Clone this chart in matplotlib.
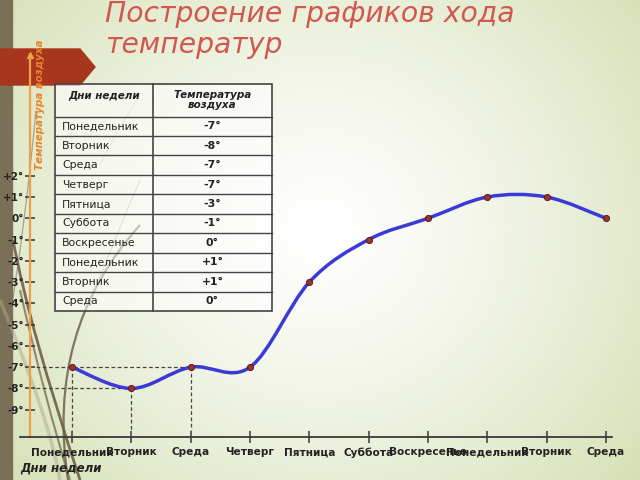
import numpy as np
import matplotlib.pyplot as plt
from matplotlib.path import Path
from matplotlib.patches import PathPatch, Rectangle, Polygon

# data
days = ["Понедельник", "Вторник", "Среда", "Четверг", "Пятница", "Суббота",
        "Воскресенье", "Понедельник", "Вторник", "Среда"]
temps = [-7, -8, -7, -7, -3, -1, 0, 1, 1, 0]
y_ticks = list(range(-9, 3))


def deg(v):
    return ("+%d°" % v) if v > 0 else ("%d°" % v)


fig = plt.figure(figsize=(6.4, 4.8), dpi=100)

# slide background (pixel coordinates)
bg = fig.add_axes([0, 0, 1, 1], zorder=0)
bg.set_xlim(0, 640)
bg.set_ylim(480, 0)
bg.axis("off")
yy, xx = np.mgrid[0:480, 0:640]
r = np.sqrt(((xx - 320) / 430.0) ** 2 + ((yy - 230) / 400.0) ** 2)
r = np.clip(r, 0, 1) ** 1.3
c0 = np.array([1.0, 1.0, 1.0])
c1 = np.array([212, 223, 178]) / 255.0
bg.imshow(c0 + (c1 - c0) * r[..., None], extent=(0, 640, 480, 0), aspect="auto", zorder=0)

bg.add_patch(Rectangle((0, 0), 12, 480, color="#7a7058", zorder=1))

# decorative curves
curves = [
    ((13, 240), (30, 330), (80, 480), 2.0, "#6e6048", 0.9),
    ((20, 290), (45, 400), (70, 480), 1.5, "#6e6048", 0.7),
    ((140, 225), (45, 330), (68, 480), 1.6, "#6e6048", 0.85),
    ((0, 300), (50, 420), (60, 480), 2.5, "#b0a890", 0.5),
    ((36, 110), (26, 220), (8, 330), 0.9, "#777766", 0.6),
    ((140, 180), (118, 230), (95, 290), 0.7, "#888877", 0.6),
    ((140, 95), (120, 125), (100, 165), 0.6, "#999988", 0.5),
]
for p0, p1, p2, lw, col, al in curves:
    bg.add_patch(PathPatch(Path([p0, p1, p2], [Path.MOVETO, Path.CURVE3, Path.CURVE3]),
                           fill=False, lw=lw, color=col, alpha=al, zorder=2))

bg.add_patch(Polygon([(0, 49), (80, 49), (95, 67), (80, 85), (0, 85)],
                     closed=True, color="#a8361c", zorder=3))

# title
bg.text(105, 22, "Построение графиков хода", fontsize=20.3, style="italic",
        color="#d0584e", va="baseline", zorder=4)
bg.text(105, 53, "температур", fontsize=20.3, style="italic",
        color="#d0584e", va="baseline", zorder=4)

bg.text(40, 105, "Температура воздуха", rotation=90, fontsize=7.5, style="italic",
        fontweight="bold", color="#e8842c", ha="center", va="center", zorder=5)
bg.text(20, 468, "Дни недели", fontsize=8.5, style="italic", fontweight="bold",
        color="#222222", ha="left", va="center", zorder=5)

# table
tl, tr, tc = 55, 272, 153
top, head = 84, 116.5
rh = 19.45
bottom = head + rh * len(days)
bg.add_patch(Rectangle((tl, top), tr - tl, bottom - top, facecolor="white",
                       alpha=0.55, edgecolor="none", zorder=4))
bg.add_patch(Rectangle((tl, top), tr - tl, bottom - top, fill=False,
                       edgecolor="#444444", lw=1.2, zorder=5))
bg.plot([tc, tc], [top, bottom], color="#444444", lw=1.2, zorder=5)
for i in range(len(days)):
    yl = head + rh * i
    bg.plot([tl, tr], [yl, yl], color="#444444", lw=1.0, zorder=5)
    yc = yl + rh / 2
    bg.text(62, yc, days[i], fontsize=7.8, color="#222222", va="center", zorder=6)
    bg.text((tc + tr) / 2, yc, deg(temps[i]), fontsize=7.8, fontweight="bold",
            color="#222222", ha="center", va="center", zorder=6)
bg.text((tl + tc) / 2, 95, "Дни недели", fontsize=7.5, style="italic", fontweight="bold",
        color="#222222", ha="center", va="center", zorder=6)
bg.text((tc + tr) / 2, 100, "Температура\nвоздуха", fontsize=7.5, style="italic",
        fontweight="bold", color="#222222", ha="center", va="center",
        linespacing=1.0, zorder=6)

# chart axes
px_x, px_y = 59.33, 21.27
ax = fig.add_axes([20 / 640, 43 / 480, 592 / 640, 382 / 480], zorder=2)
ax.patch.set_alpha(0)
ax.set_xlim((20 - 72) / px_x, (612 - 72) / px_x)
ax.set_ylim((218.3 - 437) / px_y, (218.3 - 55) / px_y)
yaxis_x = (29.5 - 72) / px_x

for s in ["top", "right"]:
    ax.spines[s].set_visible(False)
ax.spines["left"].set_position(("data", yaxis_x))
ax.spines["left"].set_color("#f0a048")
ax.spines["left"].set_linewidth(1.6)
ax.spines["bottom"].set_color("#3a3a3a")
ax.spines["bottom"].set_linewidth(1.3)
ax.plot([yaxis_x], [ax.get_ylim()[1]], marker="^", ms=5, color="#f0a048", clip_on=False)

x = np.arange(len(days))
ax.set_xticks(x)
ax.set_xticklabels(days, fontsize=7.6, fontweight="bold", color="#222222")
ax.set_yticks(y_ticks)
ax.set_yticklabels([deg(v) for v in y_ticks], fontsize=7.5, fontweight="bold", color="#222222")
ax.tick_params(axis="x", direction="inout", length=8, width=1.1, color="#3a3a3a", pad=3.5)
ax.tick_params(axis="y", direction="inout", length=7.5, width=1.1, color="#333333", pad=0)

# dashed guide lines
gx0 = (36 - 72) / px_x
dash = dict(color="#444444", lw=0.9, ls=(0, (3, 2)), zorder=2)
ax.plot([gx0, 2], [-7, -7], **dash)
ax.plot([gx0, 1], [-8, -8], **dash)
for i in [0, 1, 2]:
    ax.plot([i, i], [temps[i], -9.95], **dash)

# smooth line (Catmull-Rom as cubic Bezier)
pts = np.column_stack([x, temps]).astype(float)
ext = np.vstack([pts[0], pts, pts[-1]])
verts = [tuple(pts[0])]
codes = [Path.MOVETO]
for i in range(len(pts) - 1):
    p0, p1, p2, p3 = ext[i], ext[i + 1], ext[i + 2], ext[i + 3]
    verts += [tuple(p1 + (p2 - p0) / 6), tuple(p2 - (p3 - p1) / 6), tuple(p2)]
    codes += [Path.CURVE4] * 3
ax.add_patch(PathPatch(Path(verts, codes), fill=False, lw=2.5, color="#3a3ad6", zorder=3))
ax.plot(x, temps, "o", ms=4.5, color="#a0302a", mec="#4a1a1a", mew=0.6, zorder=4)

fig.savefig("out.png", dpi=100)
